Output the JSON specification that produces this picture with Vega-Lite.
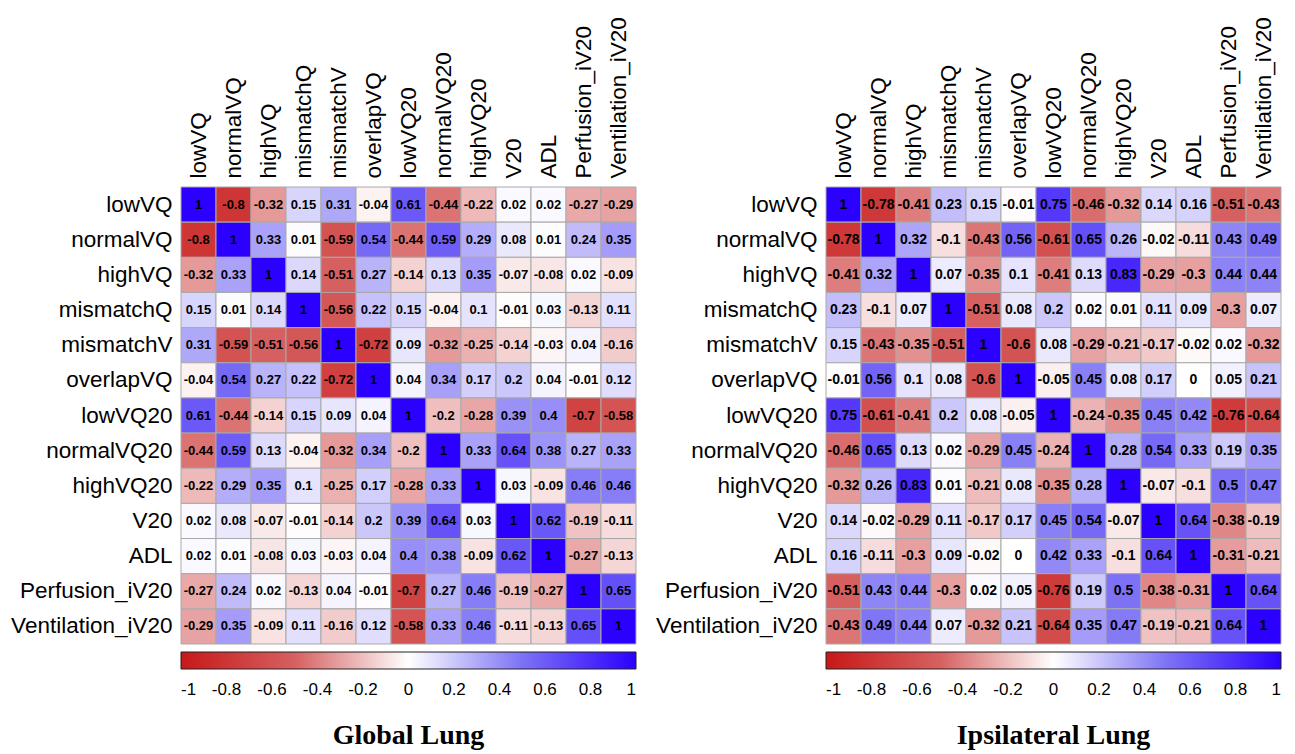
{
  "$schema": "https://vega.github.io/schema/vega-lite/v6.json",
  "background": "white",
  "padding": {"left": 10, "top": 16, "right": 5, "bottom": 2},
  "spacing": 18,
  "datasets": {
    "global": [
      {"row":"lowVQ","col":"lowVQ","r":1},{"row":"lowVQ","col":"normalVQ","r":-0.8},{"row":"lowVQ","col":"highVQ","r":-0.32},{"row":"lowVQ","col":"mismatchQ","r":0.15},{"row":"lowVQ","col":"mismatchV","r":0.31},{"row":"lowVQ","col":"overlapVQ","r":-0.04},{"row":"lowVQ","col":"lowVQ20","r":0.61},{"row":"lowVQ","col":"normalVQ20","r":-0.44},{"row":"lowVQ","col":"highVQ20","r":-0.22},{"row":"lowVQ","col":"V20","r":0.02},{"row":"lowVQ","col":"ADL","r":0.02},{"row":"lowVQ","col":"Perfusion_iV20","r":-0.27},{"row":"lowVQ","col":"Ventilation_iV20","r":-0.29},
      {"row":"normalVQ","col":"lowVQ","r":-0.8},{"row":"normalVQ","col":"normalVQ","r":1},{"row":"normalVQ","col":"highVQ","r":0.33},{"row":"normalVQ","col":"mismatchQ","r":0.01},{"row":"normalVQ","col":"mismatchV","r":-0.59},{"row":"normalVQ","col":"overlapVQ","r":0.54},{"row":"normalVQ","col":"lowVQ20","r":-0.44},{"row":"normalVQ","col":"normalVQ20","r":0.59},{"row":"normalVQ","col":"highVQ20","r":0.29},{"row":"normalVQ","col":"V20","r":0.08},{"row":"normalVQ","col":"ADL","r":0.01},{"row":"normalVQ","col":"Perfusion_iV20","r":0.24},{"row":"normalVQ","col":"Ventilation_iV20","r":0.35},
      {"row":"highVQ","col":"lowVQ","r":-0.32},{"row":"highVQ","col":"normalVQ","r":0.33},{"row":"highVQ","col":"highVQ","r":1},{"row":"highVQ","col":"mismatchQ","r":0.14},{"row":"highVQ","col":"mismatchV","r":-0.51},{"row":"highVQ","col":"overlapVQ","r":0.27},{"row":"highVQ","col":"lowVQ20","r":-0.14},{"row":"highVQ","col":"normalVQ20","r":0.13},{"row":"highVQ","col":"highVQ20","r":0.35},{"row":"highVQ","col":"V20","r":-0.07},{"row":"highVQ","col":"ADL","r":-0.08},{"row":"highVQ","col":"Perfusion_iV20","r":0.02},{"row":"highVQ","col":"Ventilation_iV20","r":-0.09},
      {"row":"mismatchQ","col":"lowVQ","r":0.15},{"row":"mismatchQ","col":"normalVQ","r":0.01},{"row":"mismatchQ","col":"highVQ","r":0.14},{"row":"mismatchQ","col":"mismatchQ","r":1},{"row":"mismatchQ","col":"mismatchV","r":-0.56},{"row":"mismatchQ","col":"overlapVQ","r":0.22},{"row":"mismatchQ","col":"lowVQ20","r":0.15},{"row":"mismatchQ","col":"normalVQ20","r":-0.04},{"row":"mismatchQ","col":"highVQ20","r":0.1},{"row":"mismatchQ","col":"V20","r":-0.01},{"row":"mismatchQ","col":"ADL","r":0.03},{"row":"mismatchQ","col":"Perfusion_iV20","r":-0.13},{"row":"mismatchQ","col":"Ventilation_iV20","r":0.11},
      {"row":"mismatchV","col":"lowVQ","r":0.31},{"row":"mismatchV","col":"normalVQ","r":-0.59},{"row":"mismatchV","col":"highVQ","r":-0.51},{"row":"mismatchV","col":"mismatchQ","r":-0.56},{"row":"mismatchV","col":"mismatchV","r":1},{"row":"mismatchV","col":"overlapVQ","r":-0.72},{"row":"mismatchV","col":"lowVQ20","r":0.09},{"row":"mismatchV","col":"normalVQ20","r":-0.32},{"row":"mismatchV","col":"highVQ20","r":-0.25},{"row":"mismatchV","col":"V20","r":-0.14},{"row":"mismatchV","col":"ADL","r":-0.03},{"row":"mismatchV","col":"Perfusion_iV20","r":0.04},{"row":"mismatchV","col":"Ventilation_iV20","r":-0.16},
      {"row":"overlapVQ","col":"lowVQ","r":-0.04},{"row":"overlapVQ","col":"normalVQ","r":0.54},{"row":"overlapVQ","col":"highVQ","r":0.27},{"row":"overlapVQ","col":"mismatchQ","r":0.22},{"row":"overlapVQ","col":"mismatchV","r":-0.72},{"row":"overlapVQ","col":"overlapVQ","r":1},{"row":"overlapVQ","col":"lowVQ20","r":0.04},{"row":"overlapVQ","col":"normalVQ20","r":0.34},{"row":"overlapVQ","col":"highVQ20","r":0.17},{"row":"overlapVQ","col":"V20","r":0.2},{"row":"overlapVQ","col":"ADL","r":0.04},{"row":"overlapVQ","col":"Perfusion_iV20","r":-0.01},{"row":"overlapVQ","col":"Ventilation_iV20","r":0.12},
      {"row":"lowVQ20","col":"lowVQ","r":0.61},{"row":"lowVQ20","col":"normalVQ","r":-0.44},{"row":"lowVQ20","col":"highVQ","r":-0.14},{"row":"lowVQ20","col":"mismatchQ","r":0.15},{"row":"lowVQ20","col":"mismatchV","r":0.09},{"row":"lowVQ20","col":"overlapVQ","r":0.04},{"row":"lowVQ20","col":"lowVQ20","r":1},{"row":"lowVQ20","col":"normalVQ20","r":-0.2},{"row":"lowVQ20","col":"highVQ20","r":-0.28},{"row":"lowVQ20","col":"V20","r":0.39},{"row":"lowVQ20","col":"ADL","r":0.4},{"row":"lowVQ20","col":"Perfusion_iV20","r":-0.7},{"row":"lowVQ20","col":"Ventilation_iV20","r":-0.58},
      {"row":"normalVQ20","col":"lowVQ","r":-0.44},{"row":"normalVQ20","col":"normalVQ","r":0.59},{"row":"normalVQ20","col":"highVQ","r":0.13},{"row":"normalVQ20","col":"mismatchQ","r":-0.04},{"row":"normalVQ20","col":"mismatchV","r":-0.32},{"row":"normalVQ20","col":"overlapVQ","r":0.34},{"row":"normalVQ20","col":"lowVQ20","r":-0.2},{"row":"normalVQ20","col":"normalVQ20","r":1},{"row":"normalVQ20","col":"highVQ20","r":0.33},{"row":"normalVQ20","col":"V20","r":0.64},{"row":"normalVQ20","col":"ADL","r":0.38},{"row":"normalVQ20","col":"Perfusion_iV20","r":0.27},{"row":"normalVQ20","col":"Ventilation_iV20","r":0.33},
      {"row":"highVQ20","col":"lowVQ","r":-0.22},{"row":"highVQ20","col":"normalVQ","r":0.29},{"row":"highVQ20","col":"highVQ","r":0.35},{"row":"highVQ20","col":"mismatchQ","r":0.1},{"row":"highVQ20","col":"mismatchV","r":-0.25},{"row":"highVQ20","col":"overlapVQ","r":0.17},{"row":"highVQ20","col":"lowVQ20","r":-0.28},{"row":"highVQ20","col":"normalVQ20","r":0.33},{"row":"highVQ20","col":"highVQ20","r":1},{"row":"highVQ20","col":"V20","r":0.03},{"row":"highVQ20","col":"ADL","r":-0.09},{"row":"highVQ20","col":"Perfusion_iV20","r":0.46},{"row":"highVQ20","col":"Ventilation_iV20","r":0.46},
      {"row":"V20","col":"lowVQ","r":0.02},{"row":"V20","col":"normalVQ","r":0.08},{"row":"V20","col":"highVQ","r":-0.07},{"row":"V20","col":"mismatchQ","r":-0.01},{"row":"V20","col":"mismatchV","r":-0.14},{"row":"V20","col":"overlapVQ","r":0.2},{"row":"V20","col":"lowVQ20","r":0.39},{"row":"V20","col":"normalVQ20","r":0.64},{"row":"V20","col":"highVQ20","r":0.03},{"row":"V20","col":"V20","r":1},{"row":"V20","col":"ADL","r":0.62},{"row":"V20","col":"Perfusion_iV20","r":-0.19},{"row":"V20","col":"Ventilation_iV20","r":-0.11},
      {"row":"ADL","col":"lowVQ","r":0.02},{"row":"ADL","col":"normalVQ","r":0.01},{"row":"ADL","col":"highVQ","r":-0.08},{"row":"ADL","col":"mismatchQ","r":0.03},{"row":"ADL","col":"mismatchV","r":-0.03},{"row":"ADL","col":"overlapVQ","r":0.04},{"row":"ADL","col":"lowVQ20","r":0.4},{"row":"ADL","col":"normalVQ20","r":0.38},{"row":"ADL","col":"highVQ20","r":-0.09},{"row":"ADL","col":"V20","r":0.62},{"row":"ADL","col":"ADL","r":1},{"row":"ADL","col":"Perfusion_iV20","r":-0.27},{"row":"ADL","col":"Ventilation_iV20","r":-0.13},
      {"row":"Perfusion_iV20","col":"lowVQ","r":-0.27},{"row":"Perfusion_iV20","col":"normalVQ","r":0.24},{"row":"Perfusion_iV20","col":"highVQ","r":0.02},{"row":"Perfusion_iV20","col":"mismatchQ","r":-0.13},{"row":"Perfusion_iV20","col":"mismatchV","r":0.04},{"row":"Perfusion_iV20","col":"overlapVQ","r":-0.01},{"row":"Perfusion_iV20","col":"lowVQ20","r":-0.7},{"row":"Perfusion_iV20","col":"normalVQ20","r":0.27},{"row":"Perfusion_iV20","col":"highVQ20","r":0.46},{"row":"Perfusion_iV20","col":"V20","r":-0.19},{"row":"Perfusion_iV20","col":"ADL","r":-0.27},{"row":"Perfusion_iV20","col":"Perfusion_iV20","r":1},{"row":"Perfusion_iV20","col":"Ventilation_iV20","r":0.65},
      {"row":"Ventilation_iV20","col":"lowVQ","r":-0.29},{"row":"Ventilation_iV20","col":"normalVQ","r":0.35},{"row":"Ventilation_iV20","col":"highVQ","r":-0.09},{"row":"Ventilation_iV20","col":"mismatchQ","r":0.11},{"row":"Ventilation_iV20","col":"mismatchV","r":-0.16},{"row":"Ventilation_iV20","col":"overlapVQ","r":0.12},{"row":"Ventilation_iV20","col":"lowVQ20","r":-0.58},{"row":"Ventilation_iV20","col":"normalVQ20","r":0.33},{"row":"Ventilation_iV20","col":"highVQ20","r":0.46},{"row":"Ventilation_iV20","col":"V20","r":-0.11},{"row":"Ventilation_iV20","col":"ADL","r":-0.13},{"row":"Ventilation_iV20","col":"Perfusion_iV20","r":0.65},{"row":"Ventilation_iV20","col":"Ventilation_iV20","r":1}
    ],
    "ipsi": [
      {"row":"lowVQ","col":"lowVQ","r":1},{"row":"lowVQ","col":"normalVQ","r":-0.78},{"row":"lowVQ","col":"highVQ","r":-0.41},{"row":"lowVQ","col":"mismatchQ","r":0.23},{"row":"lowVQ","col":"mismatchV","r":0.15},{"row":"lowVQ","col":"overlapVQ","r":-0.01},{"row":"lowVQ","col":"lowVQ20","r":0.75},{"row":"lowVQ","col":"normalVQ20","r":-0.46},{"row":"lowVQ","col":"highVQ20","r":-0.32},{"row":"lowVQ","col":"V20","r":0.14},{"row":"lowVQ","col":"ADL","r":0.16},{"row":"lowVQ","col":"Perfusion_iV20","r":-0.51},{"row":"lowVQ","col":"Ventilation_iV20","r":-0.43},
      {"row":"normalVQ","col":"lowVQ","r":-0.78},{"row":"normalVQ","col":"normalVQ","r":1},{"row":"normalVQ","col":"highVQ","r":0.32},{"row":"normalVQ","col":"mismatchQ","r":-0.1},{"row":"normalVQ","col":"mismatchV","r":-0.43},{"row":"normalVQ","col":"overlapVQ","r":0.56},{"row":"normalVQ","col":"lowVQ20","r":-0.61},{"row":"normalVQ","col":"normalVQ20","r":0.65},{"row":"normalVQ","col":"highVQ20","r":0.26},{"row":"normalVQ","col":"V20","r":-0.02},{"row":"normalVQ","col":"ADL","r":-0.11},{"row":"normalVQ","col":"Perfusion_iV20","r":0.43},{"row":"normalVQ","col":"Ventilation_iV20","r":0.49},
      {"row":"highVQ","col":"lowVQ","r":-0.41},{"row":"highVQ","col":"normalVQ","r":0.32},{"row":"highVQ","col":"highVQ","r":1},{"row":"highVQ","col":"mismatchQ","r":0.07},{"row":"highVQ","col":"mismatchV","r":-0.35},{"row":"highVQ","col":"overlapVQ","r":0.1},{"row":"highVQ","col":"lowVQ20","r":-0.41},{"row":"highVQ","col":"normalVQ20","r":0.13},{"row":"highVQ","col":"highVQ20","r":0.83},{"row":"highVQ","col":"V20","r":-0.29},{"row":"highVQ","col":"ADL","r":-0.3},{"row":"highVQ","col":"Perfusion_iV20","r":0.44},{"row":"highVQ","col":"Ventilation_iV20","r":0.44},
      {"row":"mismatchQ","col":"lowVQ","r":0.23},{"row":"mismatchQ","col":"normalVQ","r":-0.1},{"row":"mismatchQ","col":"highVQ","r":0.07},{"row":"mismatchQ","col":"mismatchQ","r":1},{"row":"mismatchQ","col":"mismatchV","r":-0.51},{"row":"mismatchQ","col":"overlapVQ","r":0.08},{"row":"mismatchQ","col":"lowVQ20","r":0.2},{"row":"mismatchQ","col":"normalVQ20","r":0.02},{"row":"mismatchQ","col":"highVQ20","r":0.01},{"row":"mismatchQ","col":"V20","r":0.11},{"row":"mismatchQ","col":"ADL","r":0.09},{"row":"mismatchQ","col":"Perfusion_iV20","r":-0.3},{"row":"mismatchQ","col":"Ventilation_iV20","r":0.07},
      {"row":"mismatchV","col":"lowVQ","r":0.15},{"row":"mismatchV","col":"normalVQ","r":-0.43},{"row":"mismatchV","col":"highVQ","r":-0.35},{"row":"mismatchV","col":"mismatchQ","r":-0.51},{"row":"mismatchV","col":"mismatchV","r":1},{"row":"mismatchV","col":"overlapVQ","r":-0.6},{"row":"mismatchV","col":"lowVQ20","r":0.08},{"row":"mismatchV","col":"normalVQ20","r":-0.29},{"row":"mismatchV","col":"highVQ20","r":-0.21},{"row":"mismatchV","col":"V20","r":-0.17},{"row":"mismatchV","col":"ADL","r":-0.02},{"row":"mismatchV","col":"Perfusion_iV20","r":0.02},{"row":"mismatchV","col":"Ventilation_iV20","r":-0.32},
      {"row":"overlapVQ","col":"lowVQ","r":-0.01},{"row":"overlapVQ","col":"normalVQ","r":0.56},{"row":"overlapVQ","col":"highVQ","r":0.1},{"row":"overlapVQ","col":"mismatchQ","r":0.08},{"row":"overlapVQ","col":"mismatchV","r":-0.6},{"row":"overlapVQ","col":"overlapVQ","r":1},{"row":"overlapVQ","col":"lowVQ20","r":-0.05},{"row":"overlapVQ","col":"normalVQ20","r":0.45},{"row":"overlapVQ","col":"highVQ20","r":0.08},{"row":"overlapVQ","col":"V20","r":0.17},{"row":"overlapVQ","col":"ADL","r":0},{"row":"overlapVQ","col":"Perfusion_iV20","r":0.05},{"row":"overlapVQ","col":"Ventilation_iV20","r":0.21},
      {"row":"lowVQ20","col":"lowVQ","r":0.75},{"row":"lowVQ20","col":"normalVQ","r":-0.61},{"row":"lowVQ20","col":"highVQ","r":-0.41},{"row":"lowVQ20","col":"mismatchQ","r":0.2},{"row":"lowVQ20","col":"mismatchV","r":0.08},{"row":"lowVQ20","col":"overlapVQ","r":-0.05},{"row":"lowVQ20","col":"lowVQ20","r":1},{"row":"lowVQ20","col":"normalVQ20","r":-0.24},{"row":"lowVQ20","col":"highVQ20","r":-0.35},{"row":"lowVQ20","col":"V20","r":0.45},{"row":"lowVQ20","col":"ADL","r":0.42},{"row":"lowVQ20","col":"Perfusion_iV20","r":-0.76},{"row":"lowVQ20","col":"Ventilation_iV20","r":-0.64},
      {"row":"normalVQ20","col":"lowVQ","r":-0.46},{"row":"normalVQ20","col":"normalVQ","r":0.65},{"row":"normalVQ20","col":"highVQ","r":0.13},{"row":"normalVQ20","col":"mismatchQ","r":0.02},{"row":"normalVQ20","col":"mismatchV","r":-0.29},{"row":"normalVQ20","col":"overlapVQ","r":0.45},{"row":"normalVQ20","col":"lowVQ20","r":-0.24},{"row":"normalVQ20","col":"normalVQ20","r":1},{"row":"normalVQ20","col":"highVQ20","r":0.28},{"row":"normalVQ20","col":"V20","r":0.54},{"row":"normalVQ20","col":"ADL","r":0.33},{"row":"normalVQ20","col":"Perfusion_iV20","r":0.19},{"row":"normalVQ20","col":"Ventilation_iV20","r":0.35},
      {"row":"highVQ20","col":"lowVQ","r":-0.32},{"row":"highVQ20","col":"normalVQ","r":0.26},{"row":"highVQ20","col":"highVQ","r":0.83},{"row":"highVQ20","col":"mismatchQ","r":0.01},{"row":"highVQ20","col":"mismatchV","r":-0.21},{"row":"highVQ20","col":"overlapVQ","r":0.08},{"row":"highVQ20","col":"lowVQ20","r":-0.35},{"row":"highVQ20","col":"normalVQ20","r":0.28},{"row":"highVQ20","col":"highVQ20","r":1},{"row":"highVQ20","col":"V20","r":-0.07},{"row":"highVQ20","col":"ADL","r":-0.1},{"row":"highVQ20","col":"Perfusion_iV20","r":0.5},{"row":"highVQ20","col":"Ventilation_iV20","r":0.47},
      {"row":"V20","col":"lowVQ","r":0.14},{"row":"V20","col":"normalVQ","r":-0.02},{"row":"V20","col":"highVQ","r":-0.29},{"row":"V20","col":"mismatchQ","r":0.11},{"row":"V20","col":"mismatchV","r":-0.17},{"row":"V20","col":"overlapVQ","r":0.17},{"row":"V20","col":"lowVQ20","r":0.45},{"row":"V20","col":"normalVQ20","r":0.54},{"row":"V20","col":"highVQ20","r":-0.07},{"row":"V20","col":"V20","r":1},{"row":"V20","col":"ADL","r":0.64},{"row":"V20","col":"Perfusion_iV20","r":-0.38},{"row":"V20","col":"Ventilation_iV20","r":-0.19},
      {"row":"ADL","col":"lowVQ","r":0.16},{"row":"ADL","col":"normalVQ","r":-0.11},{"row":"ADL","col":"highVQ","r":-0.3},{"row":"ADL","col":"mismatchQ","r":0.09},{"row":"ADL","col":"mismatchV","r":-0.02},{"row":"ADL","col":"overlapVQ","r":0},{"row":"ADL","col":"lowVQ20","r":0.42},{"row":"ADL","col":"normalVQ20","r":0.33},{"row":"ADL","col":"highVQ20","r":-0.1},{"row":"ADL","col":"V20","r":0.64},{"row":"ADL","col":"ADL","r":1},{"row":"ADL","col":"Perfusion_iV20","r":-0.31},{"row":"ADL","col":"Ventilation_iV20","r":-0.21},
      {"row":"Perfusion_iV20","col":"lowVQ","r":-0.51},{"row":"Perfusion_iV20","col":"normalVQ","r":0.43},{"row":"Perfusion_iV20","col":"highVQ","r":0.44},{"row":"Perfusion_iV20","col":"mismatchQ","r":-0.3},{"row":"Perfusion_iV20","col":"mismatchV","r":0.02},{"row":"Perfusion_iV20","col":"overlapVQ","r":0.05},{"row":"Perfusion_iV20","col":"lowVQ20","r":-0.76},{"row":"Perfusion_iV20","col":"normalVQ20","r":0.19},{"row":"Perfusion_iV20","col":"highVQ20","r":0.5},{"row":"Perfusion_iV20","col":"V20","r":-0.38},{"row":"Perfusion_iV20","col":"ADL","r":-0.31},{"row":"Perfusion_iV20","col":"Perfusion_iV20","r":1},{"row":"Perfusion_iV20","col":"Ventilation_iV20","r":0.64},
      {"row":"Ventilation_iV20","col":"lowVQ","r":-0.43},{"row":"Ventilation_iV20","col":"normalVQ","r":0.49},{"row":"Ventilation_iV20","col":"highVQ","r":0.44},{"row":"Ventilation_iV20","col":"mismatchQ","r":0.07},{"row":"Ventilation_iV20","col":"mismatchV","r":-0.32},{"row":"Ventilation_iV20","col":"overlapVQ","r":0.21},{"row":"Ventilation_iV20","col":"lowVQ20","r":-0.64},{"row":"Ventilation_iV20","col":"normalVQ20","r":0.35},{"row":"Ventilation_iV20","col":"highVQ20","r":0.47},{"row":"Ventilation_iV20","col":"V20","r":-0.19},{"row":"Ventilation_iV20","col":"ADL","r":-0.21},{"row":"Ventilation_iV20","col":"Perfusion_iV20","r":0.64},{"row":"Ventilation_iV20","col":"Ventilation_iV20","r":1}
    ]
  },
  "hconcat": [
    {
      "width": 455,
      "height": 457,
      "data": {"name": "global"},
      "title": {"text": "Global Lung", "orient": "bottom", "offset": 24},
      "encoding": {
        "x": {"field": "col", "type": "nominal", "title": null,
          "sort": ["lowVQ","normalVQ","highVQ","mismatchQ","mismatchV","overlapVQ","lowVQ20","normalVQ20","highVQ20","V20","ADL","Perfusion_iV20","Ventilation_iV20"],
          "axis": {"orient": "top", "labelAngle": -90, "labelAlign": "left", "labelBaseline": "middle"}},
        "y": {"field": "row", "type": "nominal", "title": null,
          "sort": ["lowVQ","normalVQ","highVQ","mismatchQ","mismatchV","overlapVQ","lowVQ20","normalVQ20","highVQ20","V20","ADL","Perfusion_iV20","Ventilation_iV20"]}
      },
      "layer": [
        {
          "mark": {"type": "rect", "stroke": "#a9a9a9", "strokeWidth": 1},
          "encoding": {
            "color": {"field": "r", "type": "quantitative",
              "scale": {"domain": [-1, -0.5, 0, 0.5, 1], "range": ["#c81818", "#d66060", "#ffffff", "#7d72f5", "#2b00ff"], "interpolate": "rgb"},
              "legend": {"title": null, "values": [-1, -0.8, -0.6, -0.4, -0.2, 0, 0.2, 0.4, 0.6, 0.8, 1], "labelExpr": "'' + datum.value", "labelOffset": 13}}
          }
        },
        {
          "mark": {"type": "text", "fontSize": 13, "fontWeight": "bold", "font": "Liberation Sans", "color": "black"},
          "encoding": {"text": {"field": "r", "type": "nominal"}}
        }
      ]
    },
    {
      "width": 455,
      "height": 457,
      "data": {"name": "ipsi"},
      "title": {"text": "Ipsilateral Lung", "orient": "bottom", "offset": 24},
      "encoding": {
        "x": {"field": "col", "type": "nominal", "title": null,
          "sort": ["lowVQ","normalVQ","highVQ","mismatchQ","mismatchV","overlapVQ","lowVQ20","normalVQ20","highVQ20","V20","ADL","Perfusion_iV20","Ventilation_iV20"],
          "axis": {"orient": "top", "labelAngle": -90, "labelAlign": "left", "labelBaseline": "middle"}},
        "y": {"field": "row", "type": "nominal", "title": null,
          "sort": ["lowVQ","normalVQ","highVQ","mismatchQ","mismatchV","overlapVQ","lowVQ20","normalVQ20","highVQ20","V20","ADL","Perfusion_iV20","Ventilation_iV20"]}
      },
      "layer": [
        {
          "mark": {"type": "rect", "stroke": "#a9a9a9", "strokeWidth": 1},
          "encoding": {
            "color": {"field": "r", "type": "quantitative",
              "scale": {"domain": [-1, -0.5, 0, 0.5, 1], "range": ["#c81818", "#d66060", "#ffffff", "#7d72f5", "#2b00ff"], "interpolate": "rgb"},
              "legend": {"title": null, "values": [-1, -0.8, -0.6, -0.4, -0.2, 0, 0.2, 0.4, 0.6, 0.8, 1], "labelExpr": "'' + datum.value", "labelOffset": 13}}
          }
        },
        {
          "mark": {"type": "text", "fontSize": 14, "fontWeight": "bold", "font": "Liberation Sans", "color": "black"},
          "encoding": {"text": {"field": "r", "type": "nominal"}}
        }
      ]
    }
  ],
  "resolve": {"scale": {"color": "independent"}, "legend": {"color": "independent"}},
  "config": {
    "view": {"stroke": null},
    "axis": {"labelFont": "Liberation Sans", "labelFontSize": 22.5, "labelColor": "black", "labelPadding": 9, "labelLimit": 0, "ticks": false, "domain": false, "grid": false},
    "legend": {
      "orient": "bottom", "direction": "horizontal", "offset": 8, "padding": 0,
      "gradientLength": 455, "gradientThickness": 17, "gradientStrokeColor": "#222222", "gradientStrokeWidth": 1,
      "labelFont": "Liberation Sans", "labelFontSize": 17, "labelColor": "black", "labelAlign": "center"
    },
    "title": {"font": "Liberation Serif", "fontSize": 28, "fontWeight": "bold", "color": "black", "anchor": "middle"}
  }
}
